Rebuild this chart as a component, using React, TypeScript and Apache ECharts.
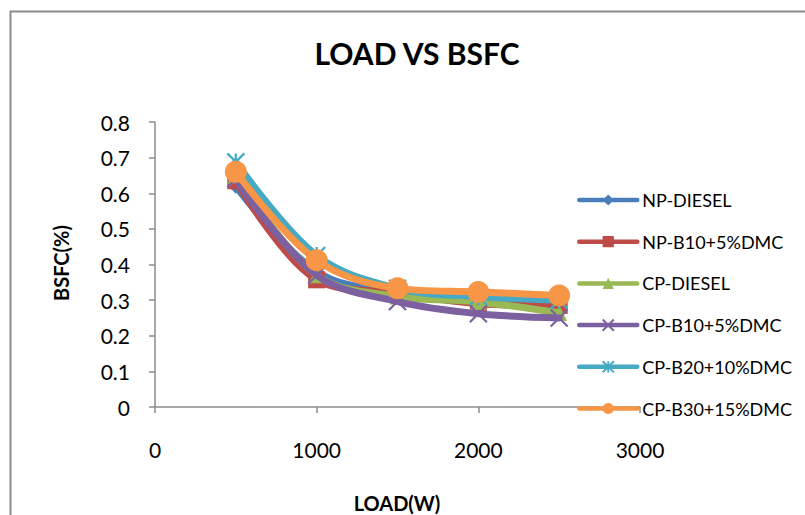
import React, { useEffect, useRef } from "react";
import * as echarts from "echarts";

const loads = [500, 1000, 1500, 2000, 2500];
const npDiesel = [0.62, 0.38, 0.32, 0.30, 0.29];
const npB10 = [0.635, 0.357, 0.32, 0.29, 0.285];
const cpDiesel = [0.65, 0.37, 0.31, 0.295, 0.264];
const cpB10 = [0.64, 0.37, 0.296, 0.262, 0.25];
const cpB20 = [0.688, 0.425, 0.333, 0.31, 0.30];
const cpB30 = [0.66, 0.412, 0.333, 0.323, 0.313];
const seriesNames = ["NP-DIESEL", "NP-B10+5%DMC", "CP-DIESEL", "CP-B10+5%DMC", "CP-B20+10%DMC", "CP-B30+15%DMC"];
const xTicks = [0, 1000, 2000, 3000];
const yTicks = [0, 0.1, 0.2, 0.3, 0.4, 0.5, 0.6, 0.7, 0.8];

const FONT = "Lato, 'Liberation Sans', sans-serif";

export default function App() {
  const ref = useRef<HTMLDivElement>(null);
  useEffect(() => {
    if (!ref.current) return;
    const chart = echarts.init(ref.current, null, { renderer: "svg" });
    const values = [npDiesel, npB10, cpDiesel, cpB10, cpB20, cpB30];
    const colors = ["#4A7EBB", "#BE4B48", "#98B954", "#7D60A0", "#46AAC5", "#F79646"];
    const symbols = [
      "diamond",
      "rect",
      "triangle",
      "path://M0,0L10,10M10,0L0,10",
      "path://M0,0L10,10M10,0L0,10M5,0L5,10",
      "circle",
    ];
    const sizes = [15, 17, 16, 17, 17, 22];
    const series = values.map((v, i) => {
      const isStroke = i === 3 || i === 4;
      return {
        name: seriesNames[i],
        type: "line",
        smooth: 0.35,
        data: v.map((y, j) => [loads[j], y]),
        symbol: symbols[i],
        symbolSize: sizes[i],
        showAllSymbol: true,
        lineStyle: { width: 7, color: colors[i], cap: "round", join: "round" },
        itemStyle: isStroke
          ? { color: colors[i], borderColor: colors[i], borderWidth: 2.2 }
          : { color: colors[i], borderWidth: 0 },
        emphasis: { disabled: true },
        z: 2 + i,
      };
    });
    chart.setOption({
      animation: false,
      backgroundColor: "#ffffff",
      textStyle: { fontFamily: FONT },
      title: {
        text: "LOAD VS BSFC",
        left: 412,
        top: 33,
        textAlign: "center",
        textStyle: { fontFamily: FONT, fontSize: 30, fontWeight: "bold", color: "#000" },
      },
      grid: { left: 155, right: 165, top: 122, bottom: 108, containLabel: false },
      legend: {
        orient: "vertical",
        left: 572,
        top: 186,
        itemWidth: 58,
        itemHeight: 14,
        itemGap: 23.7,
        data: seriesNames,
        lineStyle: { width: 4.5 },
        textStyle: { fontFamily: FONT, fontSize: 18, color: "#000", lineHeight: 18 },
      },
      xAxis: {
        type: "value",
        min: 0,
        max: 3000,
        interval: 1000,
        splitLine: { show: false },
        axisLine: { show: true, onZero: false, lineStyle: { color: "#8c8c8c", width: 1.5 } },
        axisTick: { show: true, length: 6, inside: false, lineStyle: { color: "#8c8c8c", width: 1.5 } },
        axisLabel: {
          margin: 32,
          fontFamily: FONT,
          fontSize: 21,
          color: "#000",
          formatter: (val: number) => (xTicks.includes(val) ? String(val) : ""),
        },
      },
      yAxis: {
        type: "value",
        min: 0,
        max: 0.8,
        interval: 0.1,
        splitLine: { show: false },
        axisLine: { show: true, lineStyle: { color: "#8c8c8c", width: 1.5 } },
        axisTick: { show: true, length: 6, lineStyle: { color: "#8c8c8c", width: 1.5 } },
        axisLabel: {
          margin: 25,
          fontFamily: FONT,
          fontSize: 21,
          color: "#000",
          formatter: (val: number) => {
            const t = yTicks.find((y) => Math.abs(y - val) < 1e-6);
            return t === undefined ? "" : t === 0 ? "0" : String(Number(t.toFixed(1)));
          },
        },
      },
      graphic: [
        {
          type: "rect",
          left: 8,
          top: 9,
          shape: { width: 900, height: 600 },
          style: { fill: "none", stroke: "#8c8c8c", lineWidth: 2 },
          z: 0,
          silent: true,
        },
        {
          type: "text",
          x: 61,
          y: 263,
          rotation: Math.PI / 2,
          style: {
            text: "BSFC(%)",
            fontFamily: FONT,
            fontSize: 20,
            fontWeight: "bold",
            fill: "#000",
            textAlign: "center",
            textVerticalAlign: "middle",
          },
        },
        {
          type: "text",
          x: 397,
          y: 503,
          style: {
            text: "LOAD(W)",
            fontFamily: FONT,
            fontSize: 20,
            fontWeight: "bold",
            fill: "#000",
            textAlign: "center",
            textVerticalAlign: "middle",
          },
        },
      ],
      series,
    });
    return () => chart.dispose();
  }, []);
  return (
    <div
      ref={ref}
      style={{ position: "fixed", left: 0, top: 0, width: 805, height: 515 }}
    />
  );
}
